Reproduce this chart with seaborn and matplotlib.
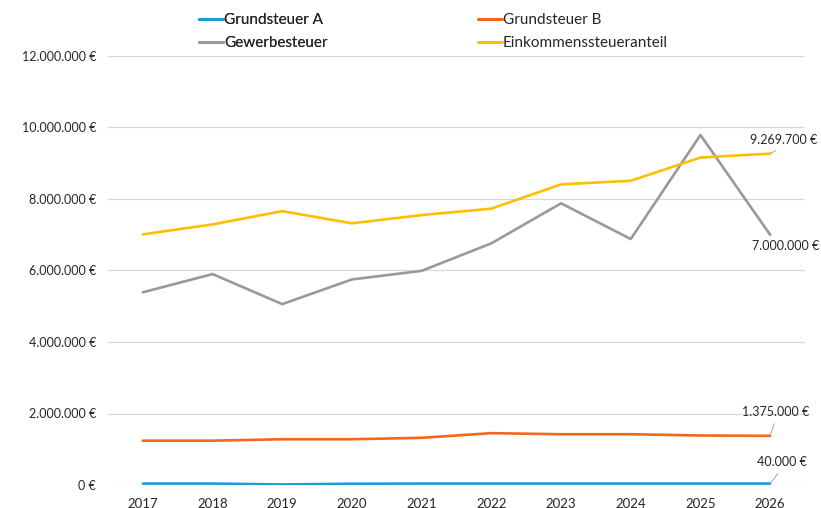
import matplotlib
matplotlib.use("Agg")
import matplotlib.pyplot as plt
import seaborn as sns
import pandas as pd
from matplotlib.ticker import FuncFormatter, MultipleLocator
from matplotlib.lines import Line2D

years = ["2017", "2018", "2019", "2020", "2021", "2022", "2023", "2024", "2025", "2026"]
grundsteuer_a = [40000, 40000, 15000, 35000, 40000, 40000, 40000, 40000, 40000, 40000]
grundsteuer_b = [1240000, 1240000, 1280000, 1280000, 1320000, 1450000, 1420000, 1420000, 1385000, 1375000]
gewerbesteuer = [5390000, 5900000, 5060000, 5750000, 5990000, 6760000, 7880000, 6880000, 9790000, 7000000]
einkommen = [7010000, 7290000, 7660000, 7320000, 7550000, 7730000, 8410000, 8510000, 9160000, 9269700]
series_names = ["Grundsteuer A", "Grundsteuer B", "Gewerbesteuer", "Einkommenssteueranteil"]
colors = ["#1E9BD7", "#F4661B", "#999999", "#FFBE00"]
end_labels = ["40.000 €", "1.375.000 €", "7.000.000 €", "9.269.700 €"]

rows = []
for name, vals in zip(series_names, [grundsteuer_a, grundsteuer_b, gewerbesteuer, einkommen]):
    for i, (y, v) in enumerate(zip(years, vals)):
        rows.append({"pos": i, "Jahr": y, "Serie": name, "Wert": v})
df = pd.DataFrame(rows)

sns.set_style("white")
plt.rcParams["font.family"] = ["Lato", "DejaVu Sans"]

fig = plt.figure(figsize=(8.21, 5.08), dpi=100)
ax = fig.add_axes([108 / 821, 23 / 508, 697 / 821, 429 / 508])

sns.lineplot(data=df, x="pos", y="Wert", hue="Serie", hue_order=series_names,
             palette=colors, linewidth=1.9, ax=ax, legend=False)

ax.set_xlim(-0.5, 9.5)
ax.set_ylim(0, 12000000)
ax.yaxis.set_major_locator(MultipleLocator(2000000))
ax.yaxis.set_major_formatter(FuncFormatter(lambda v, p: f"{int(v):,}".replace(",", ".") + " €"))
ax.set_xticks(range(len(years)))
ax.set_xticklabels(years)
ax.grid(axis="y", color="#D9D9D9", linewidth=0.9)
ax.grid(axis="x", visible=False)
for s in ax.spines.values():
    s.set_visible(False)
ax.tick_params(axis="both", length=0, colors="#262626")
ax.tick_params(axis="y", pad=8.6, labelsize=9)
ax.tick_params(axis="x", pad=9, labelsize=9.5)
ax.set_xlabel("")
ax.set_ylabel("")

# end labels with leader lines
last = len(years) - 1
offsets = [(8.6, 15.5, True), (4.3, 17.3, True), (10.8, -7.9, False), (10.0, 9.8, True)]
vals_all = [grundsteuer_a, grundsteuer_b, gewerbesteuer, einkommen]
for lab, vals, (dx, dy, leader) in zip(end_labels, vals_all, offsets):
    ax.annotate(lab, xy=(last, vals[-1]), xytext=(dx, dy), textcoords="offset points",
                fontsize=9, color="#262626", ha="center", va="center",
                arrowprops=dict(arrowstyle="-", color="#A6A6A6", lw=0.7, shrinkA=2, shrinkB=0,
                                relpos=(0.5, 0.0)) if leader else None,
                annotation_clip=False)

# legend: two columns placed separately
handles = [Line2D([0], [0], color=c, lw=2.2) for c in colors]
common = dict(loc="upper left", frameon=False, fontsize=11, handlelength=1.55,
              handletextpad=0.08, labelspacing=0.6, borderaxespad=0, borderpad=0)
leg1 = fig.legend([handles[0], handles[2]], [series_names[0], series_names[2]],
                  bbox_to_anchor=(199 / 821, 1.0 - 13 / 508), **common)
fig.add_artist(leg1)
fig.legend([handles[1], handles[3]], [series_names[1], series_names[3]],
           bbox_to_anchor=(478 / 821, 1.0 - 13 / 508), **common)

fig.savefig("out.png", dpi=100, facecolor="white")
